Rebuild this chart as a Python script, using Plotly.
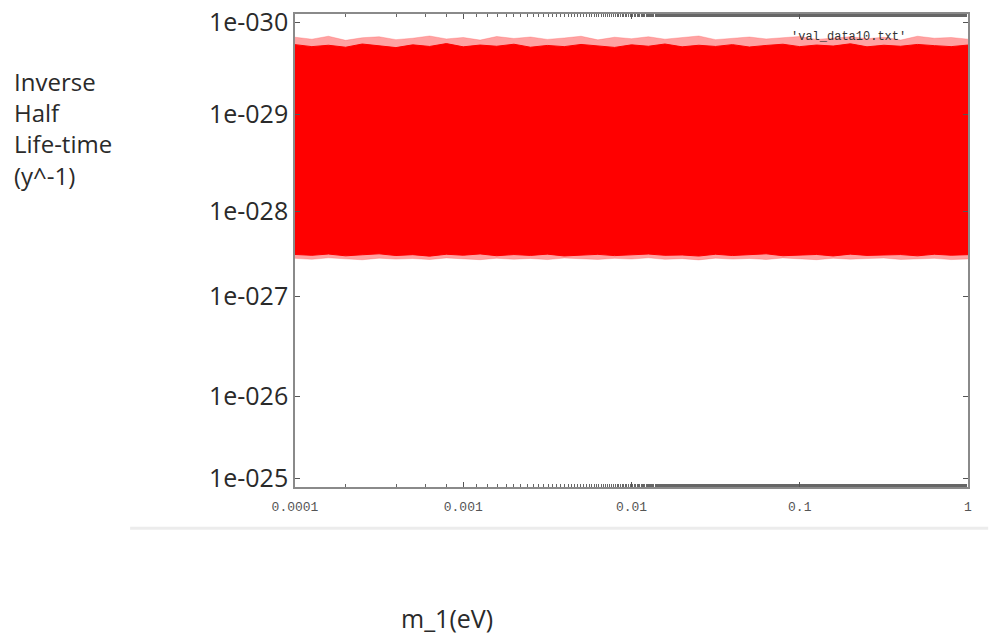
import plotly.graph_objects as go

# ---- data ----
m1 = [1.0e-4, 1.26e-4, 1.58e-4, 2.0e-4, 2.51e-4, 3.16e-4, 3.98e-4, 5.01e-4, 6.31e-4, 7.94e-4,
      1.0e-3, 1.26e-3, 1.58e-3, 2.0e-3, 2.51e-3, 3.16e-3, 3.98e-3, 5.01e-3, 6.31e-3, 7.94e-3,
      1.0e-2, 1.26e-2, 1.58e-2, 2.0e-2, 2.51e-2, 3.16e-2, 3.98e-2, 5.01e-2, 6.31e-2, 7.94e-2,
      0.1, 0.126, 0.158, 0.2, 0.251, 0.316, 0.398, 0.501, 0.631, 0.794, 1.0]

# dense core of the scatter (upper / lower edge of solid red)
core_top = [1.95e-30, 2.05e-30, 1.98e-30, 2.08e-30, 1.92e-30, 2.02e-30, 2.10e-30, 1.96e-30, 2.04e-30, 1.90e-30,
            2.06e-30, 1.97e-30, 2.03e-30, 1.93e-30, 2.08e-30, 1.99e-30, 2.05e-30, 1.94e-30, 2.01e-30, 2.09e-30,
            1.96e-30, 2.03e-30, 1.92e-30, 2.06e-30, 1.98e-30, 2.04e-30, 1.95e-30, 2.07e-30, 1.99e-30, 1.93e-30,
            2.05e-30, 1.97e-30, 2.02e-30, 1.91e-30, 2.06e-30, 1.98e-30, 2.03e-30, 1.94e-30, 2.00e-30, 2.05e-30, 1.97e-30]
core_bot = [3.72e-28, 3.80e-28, 3.68e-28, 3.85e-28, 3.75e-28, 3.66e-28, 3.82e-28, 3.74e-28, 3.88e-28, 3.70e-28,
            3.79e-28, 3.67e-28, 3.84e-28, 3.73e-28, 3.81e-28, 3.69e-28, 3.86e-28, 3.76e-28, 3.71e-28, 3.83e-28,
            3.74e-28, 3.68e-28, 3.80e-28, 3.77e-28, 3.87e-28, 3.70e-28, 3.82e-28, 3.75e-28, 3.66e-28, 3.84e-28,
            3.78e-28, 3.72e-28, 3.86e-28, 3.69e-28, 3.81e-28, 3.76e-28, 3.73e-28, 3.85e-28, 3.70e-28, 3.79e-28, 3.74e-28]
# sparse fringe of the scatter
fringe_top = [1.62e-30, 1.70e-30, 1.58e-30, 1.75e-30, 1.64e-30, 1.60e-30, 1.72e-30, 1.66e-30, 1.57e-30, 1.69e-30,
              1.63e-30, 1.74e-30, 1.59e-30, 1.67e-30, 1.61e-30, 1.71e-30, 1.65e-30, 1.58e-30, 1.73e-30, 1.62e-30,
              1.68e-30, 1.60e-30, 1.70e-30, 1.64e-30, 1.57e-30, 1.72e-30, 1.66e-30, 1.61e-30, 1.69e-30, 1.63e-30,
              1.59e-30, 1.71e-30, 1.65e-30, 1.60e-30, 1.68e-30, 1.62e-30, 1.74e-30, 1.58e-30, 1.66e-30, 1.63e-30, 1.70e-30]
fringe_bot = [4.10e-28, 4.20e-28, 4.05e-28, 4.15e-28, 4.25e-28, 4.08e-28, 4.18e-28, 4.12e-28, 4.22e-28, 4.06e-28,
              4.16e-28, 4.24e-28, 4.09e-28, 4.19e-28, 4.11e-28, 4.23e-28, 4.07e-28, 4.14e-28, 4.21e-28, 4.10e-28,
              4.17e-28, 4.05e-28, 4.20e-28, 4.13e-28, 4.26e-28, 4.08e-28, 4.18e-28, 4.11e-28, 4.22e-28, 4.06e-28,
              4.15e-28, 4.24e-28, 4.09e-28, 4.19e-28, 4.12e-28, 4.07e-28, 4.21e-28, 4.14e-28, 4.10e-28, 4.23e-28, 4.16e-28]

series_name = "'val_data10.txt'"
ytick_text = ["1e-030", "1e-029", "1e-028", "1e-027", "1e-026", "1e-025"]
ytick_exp = [-29.956, -28.951, -27.896, -26.972, -25.885, -24.994]   # where the labels sit in the picture
xtick_vals = [1e-4, 1e-3, 1e-2, 1e-1, 1]
xtick_text = ["0.0001", "0.001", "0.01", "0.1", "1"]

RED = "#ff0000"
fig = go.Figure()

# fringe band
fig.add_trace(go.Scatter(x=m1, y=fringe_bot, mode="lines", line=dict(width=0.6, color="rgba(255,80,80,0.5)"),
                         showlegend=False, hoverinfo="skip"))
fig.add_trace(go.Scatter(x=m1, y=fringe_top, mode="lines", line=dict(width=0.6, color="rgba(255,80,80,0.5)"),
                         fill="tonexty", fillcolor="rgba(255,70,70,0.5)", showlegend=False, hoverinfo="skip"))
# dense core
fig.add_trace(go.Scatter(x=m1, y=core_bot, mode="lines", line=dict(width=1, color=RED),
                         showlegend=False, hoverinfo="skip"))
fig.add_trace(go.Scatter(x=m1, y=core_top, mode="lines", line=dict(width=1, color=RED),
                         fill="tonexty", fillcolor=RED, name=series_name, showlegend=False))

FRAME = "#8a8a8a"
fig.update_xaxes(type="log", range=[-4, 0], tickvals=xtick_vals, ticktext=xtick_text,
                 ticks="inside", ticklen=5, tickcolor="#555", tickwidth=1,
                 minor=dict(ticks="inside", ticklen=3, tickcolor="#666", showgrid=False),
                 showline=True, linecolor=FRAME, linewidth=1.6, mirror="ticks",
                 showgrid=False, zeroline=False, automargin=False, ticklabelstandoff=7,
                 tickfont=dict(family="Liberation Mono", size=13, color="#555"))
fig.update_yaxes(type="log", range=[-24.902, -30.043],
                 tickvals=[10 ** e for e in ytick_exp], ticktext=ytick_text,
                 ticks="inside", ticklen=5, tickcolor="#555", tickwidth=1,
                 showline=True, linecolor=FRAME, linewidth=1.6, mirror="ticks",
                 showgrid=False, zeroline=False, ticklabelstandoff=0, automargin=False,
                 tickfont=dict(family="Open Sans", size=25, color="#2a2a2a"))

fig.add_annotation(text="Inverse<br>Half<br>Life-time<br>(y^-1)", xref="paper", yref="paper",
                   x=-0.42, y=0.757, xanchor="left", yanchor="middle", align="left", showarrow=False,
                   font=dict(family="Open Sans", size=24, color="#2a2a2a"))
fig.add_annotation(text="m_1(eV)", xref="paper", yref="paper", x=0.226, y=-0.277,
                   xanchor="center", yanchor="middle", showarrow=False,
                   font=dict(family="Open Sans", size=25, color="#2a2a2a"))
fig.add_annotation(text=series_name, xref="paper", yref="paper", x=0.823, y=0.952,
                   xanchor="center", yanchor="middle", showarrow=False,
                   font=dict(family="Liberation Mono", size=12, color="#333"))

# faint divider line from the screenshot
fig.add_shape(type="line", xref="paper", yref="paper", x0=-0.245, x1=1.03, y0=-0.087, y1=-0.087,
              line=dict(color="#ececec", width=3))

fig.update_layout(width=989, height=641, margin=dict(l=295, r=21, t=14, b=154, autoexpand=False),
                  paper_bgcolor="white", plot_bgcolor="white", showlegend=False)

fig.write_html("out.html")
